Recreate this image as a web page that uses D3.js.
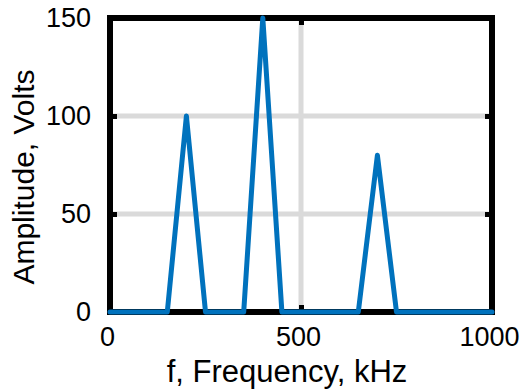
<!DOCTYPE html>
<html>
<head>
<meta charset="utf-8">
<script src="https://cdn.jsdelivr.net/npm/d3@7"></script>
<style>
  html, body { margin: 0; padding: 0; background: #fff; }
  svg { display: block; font-family: "Liberation Sans", Arial, Helvetica, sans-serif; }
</style>
</head>
<body>
<div id="chart"></div>
<script>
// spectrum
const freqKHz = [0, 150, 200, 250, 350, 400, 450, 650, 700, 750, 1000];
const amplitudeV = [0, 0, 100, 0, 0, 150, 0, 0, 80, 0, 0];
const xTicks = [0, 500, 1000];
const yTicks = [0, 50, 100, 150];

const width = 523, height = 392;
const plotLeft = 110, plotRight = 492, plotTop = 18, plotBottom = 312;

const svg = d3.select('#chart').append('svg')
  .attr('width', width)
  .attr('height', height);

const x = d3.scaleLinear().domain([0, 1000]).range([plotLeft, plotRight]);
const y = d3.scaleLinear().domain([0, 150]).range([plotBottom, plotTop]);

// grid
svg.append('g').selectAll('line')
  .data(xTicks)
  .enter().append('line')
  .attr('x1', d => x(d)).attr('x2', d => x(d))
  .attr('y1', plotTop).attr('y2', plotBottom)
  .attr('stroke', '#dadada')
  .attr('stroke-width', 5);

svg.append('g').selectAll('line')
  .data(yTicks)
  .enter().append('line')
  .attr('x1', plotLeft).attr('x2', plotRight)
  .attr('y1', d => y(d)).attr('y2', d => y(d))
  .attr('stroke', '#dadada')
  .attr('stroke-width', 5);

// axes, ticks pointing inward on all four sides
function styleAxis(g, fontSize) {
  g.select('.domain').remove();
  g.selectAll('.tick line').attr('stroke', '#000').attr('stroke-width', 5);
  g.selectAll('.tick text').attr('fill', '#000').attr('font-size', fontSize);
}

const fmt = d3.format('d');

svg.append('g')
  .attr('transform', `translate(0,${plotBottom})`)
  .call(d3.axisBottom(x).tickValues(xTicks).tickFormat(fmt).tickSizeInner(-7).tickSizeOuter(0).tickPadding(15))
  .call(g => styleAxis(g, 27))
  .call(g => g.selectAll('.tick text').attr('dx', -3));

svg.append('g')
  .attr('transform', `translate(0,${plotTop})`)
  .call(d3.axisTop(x).tickValues(xTicks).tickSizeInner(-7).tickSizeOuter(0).tickFormat(''))
  .call(g => styleAxis(g, 0));

svg.append('g')
  .attr('transform', `translate(${plotLeft},0)`)
  .call(d3.axisLeft(y).tickValues(yTicks).tickFormat(fmt).tickSizeInner(-7).tickSizeOuter(0).tickPadding(19))
  .call(g => styleAxis(g, 27));

svg.append('g')
  .attr('transform', `translate(${plotRight},0)`)
  .call(d3.axisRight(y).tickValues(yTicks).tickSizeInner(-7).tickSizeOuter(0).tickFormat(''))
  .call(g => styleAxis(g, 0));

// box
svg.append('rect')
  .attr('x', plotLeft).attr('y', plotTop)
  .attr('width', plotRight - plotLeft).attr('height', plotBottom - plotTop)
  .attr('fill', 'none')
  .attr('stroke', '#000')
  .attr('stroke-width', 6);

// the signal
const points = freqKHz.map((f, i) => [f, amplitudeV[i]]);
svg.append('path')
  .datum(points)
  .attr('fill', 'none')
  .attr('stroke', '#0072bd')
  .attr('stroke-width', 5)
  .attr('stroke-linejoin', 'round')
  .attr('stroke-linecap', 'round')
  .attr('d', d3.line().x(d => x(d[0])).y(d => y(d[1])));

// labels
svg.append('text')
  .attr('x', 287)
  .attr('y', 382)
  .attr('text-anchor', 'middle')
  .attr('font-size', 31)
  .text('f, Frequency, kHz');

svg.append('text')
  .attr('transform', 'translate(34,177) rotate(-90)')
  .attr('text-anchor', 'middle')
  .attr('font-size', 30)
  .text('Amplitude, Volts');
</script>
</body>
</html>
